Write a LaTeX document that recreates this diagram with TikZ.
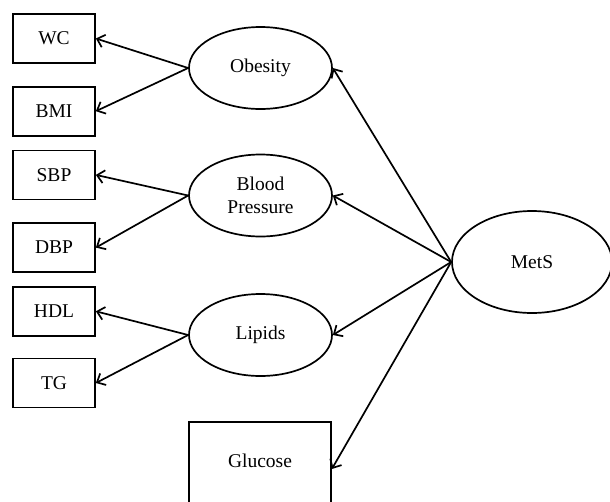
\documentclass[tikz,border=0pt]{standalone}
\usepackage{fontspec}
\setmainfont{Liberation Serif}
\usetikzlibrary{arrows.meta,shapes.geometric,positioning}

\tikzset{
  obs/.style={draw,rectangle,line width=1.7pt,minimum width=82pt,minimum height=49pt},
  lat/.style={draw,ellipse,line width=1.7pt,minimum width=143pt,minimum height=82pt,align=center}
}

\begin{document}
\begin{tikzpicture}[x=1pt,y=-1pt,>={Straight Barb[length=7pt,width=13pt]},
    font=\fontsize{19.5}{23}\selectfont]
  \useasboundingbox (0,0) rectangle (610,501);

  % indicators
  \node[obs] (wc) at (54,38.5) {WC};
  \node[obs,below=22pt of wc]  (bmi) {BMI};
  \node[obs,below=13pt of bmi] (sbp) {SBP};
  \node[obs,below=22pt of sbp] (dbp) {DBP};
  \node[obs,below=13pt of dbp] (hdl) {HDL};
  \node[obs,below=21pt of hdl] (tg)  {TG};
  \node[obs,minimum width=142pt,minimum height=86pt] (glu) at (260,465) {};
  \node at (260,461) {Glucose};

  % factors
  \node[lat] (obesity) at (260.5,68)    {Obesity};
  \node[lat] (bp)      at (260.5,195.5) {Blood\\Pressure};
  \node[lat] (lipids)  at (260.5,335)   {Lipids};
  \node[lat,minimum width=160pt,minimum height=102pt] (mets) at (532,262) {MetS};

  \path[->,line width=1.7pt]
    (obesity.west) edge (wc.east)
    (obesity.west) edge (bmi.east)
    (bp.west)      edge (sbp.east)
    (bp.west)      edge (dbp.east)
    (lipids.west)  edge (hdl.east)
    (lipids.west)  edge (tg.east)
    (mets.west)    edge (obesity.east)
    (mets.west)    edge (bp.east)
    (mets.west)    edge (lipids.east)
    (mets.west)    edge ([yshift=-4pt]glu.east);
\end{tikzpicture}
\end{document}
